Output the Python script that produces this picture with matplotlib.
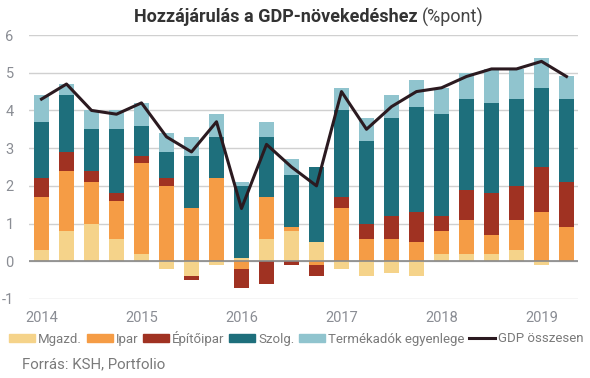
import matplotlib
matplotlib.use("Agg")
import matplotlib.pyplot as plt
import numpy as np
from matplotlib.patches import Patch
from matplotlib.lines import Line2D

plt.rcParams['font.family'] = ['Roboto', 'DejaVu Sans']
plt.rcParams['axes.unicode_minus'] = False

quarters = ["2014Q1","2014Q2","2014Q3","2014Q4","2015Q1","2015Q2","2015Q3","2015Q4",
            "2016Q1","2016Q2","2016Q3","2016Q4","2017Q1","2017Q2","2017Q3","2017Q4",
            "2018Q1","2018Q2","2018Q3","2018Q4","2019Q1","2019Q2"]
mgazd  = [0.3,0.8,1.0,0.6,0.2,-0.2,-0.4,-0.1,0.1,0.6,0.8,0.5,-0.2,-0.4,-0.3,-0.4,0.2,0.2,0.2,0.3,-0.1,0.0]
ipar   = [1.4,1.6,1.1,1.0,2.4,2.0,1.4,2.2,-0.2,1.1,0.1,-0.1,1.4,0.6,0.6,0.5,0.6,0.9,0.5,0.8,1.3,0.9]
epito  = [0.5,0.5,0.3,0.2,0.2,0.2,-0.1,0.0,-0.5,-0.6,-0.1,-0.3,0.3,0.4,0.6,0.8,0.4,0.8,1.1,0.9,1.2,1.2]
szolg  = [1.5,1.5,1.1,1.7,0.8,0.7,1.4,1.1,1.9,1.6,1.4,2.0,2.3,2.2,2.6,2.8,2.7,2.4,2.4,2.3,2.1,2.2]
termek = [0.7,0.3,0.5,0.5,0.6,0.5,0.5,0.6,0.1,0.4,0.4,0.0,0.6,0.6,0.6,0.7,0.7,0.7,0.9,0.8,0.8,0.6]
gdp    = [4.3,4.7,4.0,3.9,4.2,3.3,2.9,3.7,1.4,3.1,2.5,2.0,4.5,3.5,4.1,4.5,4.6,4.9,5.1,5.1,5.3,4.9]

series_names = ["Mgazd.", "Ipar", "Építőipar", "Szolg.", "Termékadók egyenlege"]
series_vals = [mgazd, ipar, epito, szolg, termek]
colors = ["#F5D38A", "#F59C45", "#A03222", "#1E6F7C", "#90C4CE"]
line_name = "GDP összesen"
line_color = "#2B1A20"

year_labels = ["2014", "2015", "2016", "2017", "2018", "2019"]

fig = plt.figure(figsize=(5.9, 3.78), dpi=100)
ax = fig.add_axes([29/590, 1-299/378, (578-29)/590, (299-35)/378])

x = np.arange(len(quarters))
pos_bottom = np.zeros(len(x))
neg_bottom = np.zeros(len(x))
for name, vals, c in zip(series_names, series_vals, colors):
    v = np.array(vals, dtype=float)
    pos = np.where(v > 0, v, 0)
    neg = np.where(v < 0, v, 0)
    ax.bar(x, pos, bottom=pos_bottom, width=0.6, color=c, zorder=2)
    ax.bar(x, neg, bottom=neg_bottom, width=0.6, color=c, zorder=2)
    pos_bottom += pos
    neg_bottom += neg

ax.plot(x, gdp, color=line_color, lw=2.2, zorder=4)

ax.set_xlim(-0.5, 21.46)
ax.set_ylim(-1, 6)
ax.set_yticks(range(-1, 7))
ax.yaxis.grid(True, color="#d0d0d0", lw=1, zorder=0)
ax.axhline(0, color="#888888", lw=1.2, zorder=3)
ax.set_xticks(x[::4])
ax.set_xticklabels(year_labels)
for s in ax.spines.values():
    s.set_visible(False)
ax.tick_params(axis='both', length=0, labelsize=10.5, colors="#8a8d94")
ax.tick_params(axis='y', pad=11)
ax.tick_params(axis='x', pad=9)

handles = [Patch(color=c, label=n) for n, c in zip(series_names, colors)]
handles.append(Line2D([0], [0], color=line_color, lw=2.2, label=line_name))
fig.legend(handles=handles, loc='center left', bbox_to_anchor=(9/590, 1-338/378),
           ncol=6, frameon=False, fontsize=9.5, handlelength=2.0, handleheight=0.55,
           handletextpad=0.2, columnspacing=0.35, labelcolor="#7a7a7a",
           borderaxespad=0, borderpad=0)

fig.text(22/590, 1-364/378, "Forrás: KSH, Portfolio", fontsize=10.8, color="#7a7a7a",
         va='center', ha='left')

fig.text(418/590, 1-17/378, "Hozzájárulás a GDP-növekedéshez", fontsize=13,
         fontweight='bold', color="#333333", ha='right', va='center')
fig.text(422/590, 1-17/378, "(%pont)", fontsize=13, color="#444444",
         ha='left', va='center')

fig.savefig("out.png", dpi=100)
